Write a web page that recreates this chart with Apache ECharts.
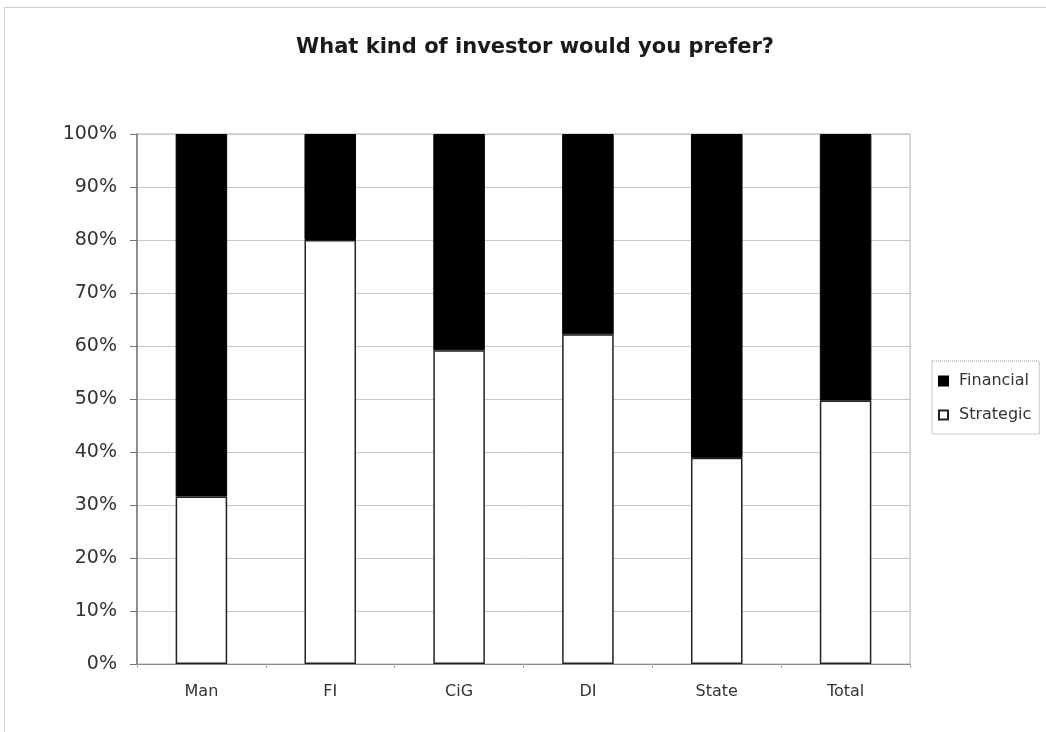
<!DOCTYPE html>
<html>
<head>
<meta charset="utf-8">
<script src="https://cdn.jsdelivr.net/npm/echarts@6/dist/echarts.min.js"></script>
<style>html,body{margin:0;padding:0;background:#fff;}#main{width:1046px;height:732px;}</style>
</head>
<body>
<div id="main"></div>
<script>
const categories = ['Man', 'FI', 'CiG', 'DI', 'State', 'Total'];
const strategic = [31.6, 80, 59.2, 62.2, 38.9, 49.7];
const financial = [68.4, 20, 40.8, 37.8, 61.1, 50.3];
const yTicks = [0, 10, 20, 30, 40, 50, 60, 70, 80, 90, 100];

const FONT = 'DejaVu Sans, Verdana, sans-serif';
const chart = echarts.init(document.getElementById('main'));
chart.setOption({
  backgroundColor: '#fff',
  animation: false,
  textStyle: { fontFamily: FONT },
  graphic: [{
    type: 'rect', shape: { x: 4.5, y: 7.5, width: 1100, height: 800 },
    style: { fill: 'none', stroke: '#d0d0d0', lineWidth: 1 }, silent: true
  }],
  title: {
    text: 'What kind of investor would you prefer?',
    left: 530, textAlign: 'center', top: 32,
    textStyle: { fontSize: 21, fontWeight: 'bold', color: '#1a1a1a', fontFamily: FONT }
  },
  legend: {
    orient: 'vertical', left: 932, top: 361,
    data: ['Financial', 'Strategic'],
    itemWidth: 9, itemHeight: 9, itemGap: 18,
    padding: [12, 8, 11, 6],
    borderColor: '#999', borderWidth: 1, borderType: 'dotted',
    textStyle: { fontSize: 16, color: '#333', lineHeight: 16, padding: [0, 0, 0, 6] },
    icon: 'rect'
  },
  grid: { left: 137, right: 136, top: 134, bottom: 68, show: true, borderColor: '#b0b0b0', borderWidth: 1 },
  xAxis: {
    type: 'category', data: categories,
    axisLine: { lineStyle: { color: '#888', width: 1 } },
    axisTick: { show: true, alignWithLabel: false, length: 4, lineStyle: { color: '#aaa' } },
    axisLabel: { fontSize: 16, color: '#333', margin: 20 }
  },
  yAxis: {
    type: 'value', min: 0, max: 100, interval: 10,
    axisLine: { show: true, lineStyle: { color: '#777', width: 1.5 } },
    axisTick: { show: true, length: 7, lineStyle: { color: '#777' } },
    splitLine: { show: true, lineStyle: { color: '#c8c8c8', width: 1 } },
    axisLabel: {
      fontSize: 19, color: '#333', margin: 20,
      formatter: v => yTicks.includes(v) ? v + '%' : ''
    }
  },
  series: [
    {
      name: 'Strategic', type: 'bar', stack: 'a', data: strategic,
      barWidth: '40%',
      itemStyle: { color: '#fff', borderColor: '#222', borderWidth: 1.5 }
    },
    {
      name: 'Financial', type: 'bar', stack: 'a', data: financial,
      barWidth: '40%',
      itemStyle: { color: '#000', borderColor: '#000', borderWidth: 1 }
    }
  ]
});
</script>
</body>
</html>
